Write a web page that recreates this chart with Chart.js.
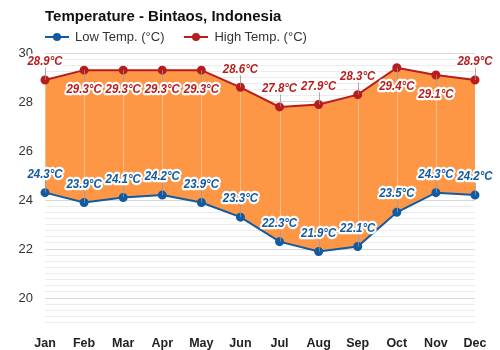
<!DOCTYPE html>
<html lang="en">
<head>
<meta charset="UTF-8">
<title>Temperature - Bintaos, Indonesia</title>
<script src="https://cdn.jsdelivr.net/npm/chart.js"></script>
<style>
body {
  margin: 0;
  background: #ffffff;
  font-family: 'Liberation Sans', Arial, sans-serif;
}
.wrap {
  position: relative;
  width: 500px;
  height: 350px;
}
.title {
  position: absolute;
  left: 45px;
  top: 7px;
  font-weight: bold;
  font-size: 15px;
  color: #111;
}
.legend {
  position: absolute;
  left: 45px;
  top: 29px;
  font-size: 13px;
  color: #333;
  display: flex;
  gap: 20px;
}
.legend .item { display: flex; align-items: center; }
.legend .mark {
  position: relative;
  width: 24px;
  height: 2px;
  margin-right: 6px;
}
.legend .mark::after {
  content: '';
  position: absolute;
  left: 8px;
  top: -3px;
  width: 8px;
  height: 8px;
  border-radius: 50%;
  background: inherit;
}
canvas { display: block; }
</style>
</head>
<body>
<div class="wrap">
  <div class="title">Temperature - Bintaos, Indonesia</div>
  <div class="legend">
    <div class="item"><span class="mark" style="background:#125aa2"></span>Low Temp. (°C)</div>
    <div class="item"><span class="mark" style="background:#b71d1d"></span>High Temp. (°C)</div>
  </div>
  <canvas id="tempChart" width="500" height="350"></canvas>
</div>

<script>
// Monthly averages
const months = ['Jan', 'Feb', 'Mar', 'Apr', 'May', 'Jun', 'Jul', 'Aug', 'Sep', 'Oct', 'Nov', 'Dec'];
const lowTemps = [24.3, 23.9, 24.1, 24.2, 23.9, 23.3, 22.3, 21.9, 22.1, 23.5, 24.3, 24.2];
const highTemps = [28.9, 29.3, 29.3, 29.3, 29.3, 28.6, 27.8, 27.9, 28.3, 29.4, 29.1, 28.9];

// which high-temp labels sit under their point
const highLabelBelow = [false, true, true, true, true, false, false, false, false, true, true, false];

const lowColor = '#125aa2';
const highColor = '#b71d1d';
const fillColor = '#fd9645';

// light vertical lines between low and high for each month
const rangeLines = {
  id: 'rangeLines',
  beforeDatasetsDraw(chart) {
    const ctx = chart.ctx;
    const lowMeta = chart.getDatasetMeta(0);
    const highMeta = chart.getDatasetMeta(1);
    ctx.save();
    ctx.strokeStyle = 'rgba(255,255,255,0.35)';
    ctx.lineWidth = 1;
    lowMeta.data.forEach((pt, i) => {
      const hi = highMeta.data[i];
      const x = Math.round(pt.x) + 0.5;
      ctx.beginPath();
      ctx.moveTo(x, pt.y);
      ctx.lineTo(x, hi.y);
      ctx.stroke();
    });
    ctx.restore();
  }
};

// value labels with white halo and a small connector to the point
const valueLabels = {
  id: 'valueLabels',
  afterDatasetsDraw(chart) {
    const ctx = chart.ctx;
    chart.data.datasets.forEach((ds, di) => {
      const meta = chart.getDatasetMeta(di);
      meta.data.forEach((pt, i) => {
        const below = di === 1 && highLabelBelow[i];
        const ly = below ? pt.y + 19 : pt.y - 18.5;
        const x = Math.round(pt.x) + 0.5;
        ctx.save();
        ctx.strokeStyle = 'rgba(150,150,150,0.8)';
        ctx.lineWidth = 1;
        ctx.beginPath();
        ctx.moveTo(x, pt.y);
        ctx.lineTo(x, below ? ly - 6 : ly + 6);
        ctx.stroke();

        // slightly condensed bold italic text
        const text = ds.data[i].toFixed(1) + '°C';
        ctx.translate(pt.x, ly);
        ctx.scale(0.85, 1);
        ctx.font = 'italic bold 13.5px "Liberation Sans", Arial, sans-serif';
        ctx.textAlign = 'center';
        ctx.textBaseline = 'middle';
        ctx.lineJoin = 'round';
        ctx.strokeStyle = '#ffffff';
        ctx.lineWidth = 4.5;
        ctx.strokeText(text, 0, 0);
        ctx.fillStyle = ds.borderColor;
        ctx.fillText(text, 0, 0);
        ctx.restore();
      });
    });
  }
};

new Chart(document.getElementById('tempChart'), {
  type: 'line',
  data: {
    labels: months,
    datasets: [
      {
        label: 'Low Temp. (°C)',
        data: lowTemps,
        borderColor: lowColor,
        backgroundColor: lowColor,
        borderWidth: 2,
        pointRadius: 3.5,
        pointBackgroundColor: lowColor,
        fill: false
      },
      {
        label: 'High Temp. (°C)',
        data: highTemps,
        borderColor: highColor,
        backgroundColor: fillColor,
        borderWidth: 2,
        pointRadius: 3.5,
        pointBackgroundColor: highColor,
        fill: { target: 0, above: fillColor, below: fillColor }
      }
    ]
  },
  options: {
    responsive: false,
    animation: false,
    layout: { padding: { top: 53, right: 25, left: 0, bottom: 0 } },
    plugins: {
      legend: { display: false },
      title: { display: false },
      tooltip: { enabled: false },
      filler: { drawTime: 'beforeDatasetsDraw' }
    },
    scales: {
      x: {
        offset: false,
        grid: { display: false },
        border: { display: false },
        ticks: {
          color: '#222',
          padding: 6,
          font: { family: '"Liberation Sans", Arial, sans-serif', size: 12.5, weight: 'bold' }
        },
        afterFit(scale) { scale.height = 27.5; }
      },
      y: {
        min: 19,
        max: 30,
        border: { display: false },
        grid: {
          drawTicks: false,
          color: (c) => (c.tick && c.tick.value % 2 === 0 ? '#d9d9d9' : '#ececec')
        },
        ticks: {
          stepSize: 0.25,
          maxTicksLimit: 100,
          autoSkip: false,
          padding: 12,
          color: '#333',
          font: { family: '"Liberation Sans", Arial, sans-serif', size: 13 },
          callback: (v) => (v % 2 === 0 ? v : '')
        },
        afterFit(scale) { scale.width = 45; }
      }
    }
  },
  plugins: [rangeLines, valueLabels]
});
</script>
</body>
</html>
